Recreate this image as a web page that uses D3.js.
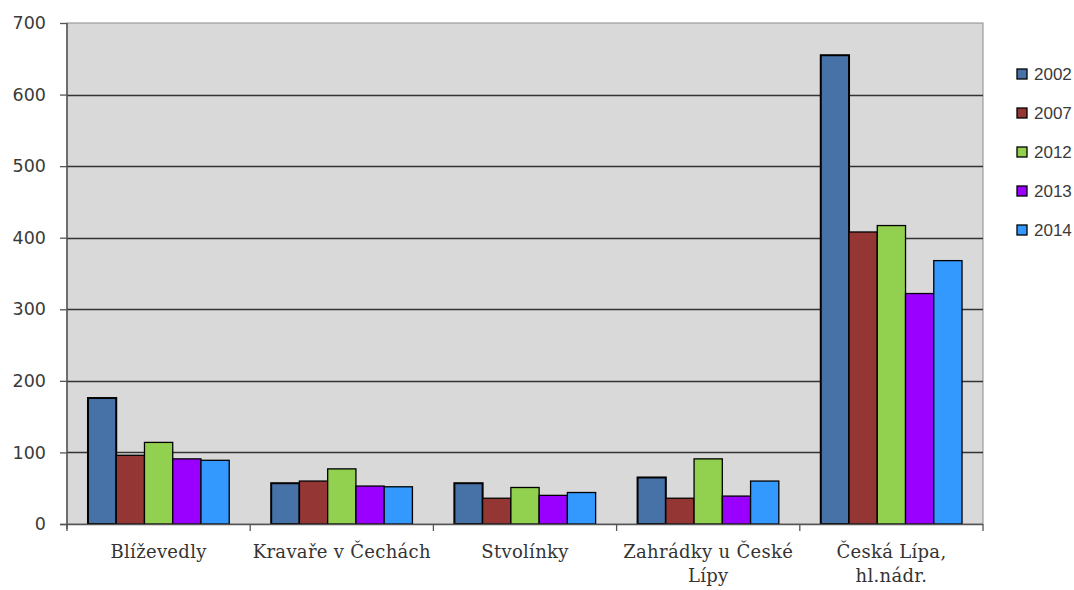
<!DOCTYPE html>
<html>
<head>
<meta charset="utf-8">
<script src="https://cdn.jsdelivr.net/npm/d3@7"></script>
<style>
  html, body { margin: 0; padding: 0; background: #ffffff; }
  svg { display: block; }
</style>
</head>
<body>
<svg id="chart" width="1074" height="590"></svg>
<script>
// Categories (localities) and the yearly series
const categories = [
  ["Blíževedly"],
  ["Kravaře v Čechách"],
  ["Stvolínky"],
  ["Zahrádky u České", "Lípy"],
  ["Česká Lípa,", "hl.nádr."]
];
const years = ["2002", "2007", "2012", "2013", "2014"];
const values2002 = [176, 57, 57, 65, 655];
const values2007 = [96, 60, 36, 36, 408];
const values2012 = [114, 77, 51, 91, 417];
const values2013 = [91, 53, 40, 39, 322];
const values2014 = [89, 52, 44, 60, 368];
const yTicks = [0, 100, 200, 300, 400, 500, 600, 700];
const colors = ["#4672A8", "#943634", "#92D050", "#9900FF", "#3399FF"];

const series = [values2002, values2007, values2012, values2013, values2014];

const svg = d3.select("#chart");
const plot = { left: 67, top: 23, right: 983, bottom: 524 };

const x0 = d3.scaleBand()
  .domain(d3.range(categories.length))
  .range([plot.left, plot.right])
  .paddingInner(0.229)
  .paddingOuter(0.1145);

const x1 = d3.scaleBand()
  .domain(d3.range(years.length))
  .range([0, x0.bandwidth()]);

const y = d3.scaleLinear().domain([0, 700]).range([plot.bottom, plot.top]);

// plot background
svg.append("rect")
  .attr("x", plot.left).attr("y", plot.top)
  .attr("width", plot.right - plot.left).attr("height", plot.bottom - plot.top)
  .attr("fill", "#D9D9D9")
  .attr("stroke", "#8c8c8c").attr("stroke-width", 1);

// horizontal gridlines
svg.append("g")
  .selectAll("line")
  .data(yTicks.filter(d => d > 0 && d < 700))
  .join("line")
  .attr("x1", plot.left).attr("x2", plot.right)
  .attr("y1", d => Math.round(y(d)) + 0.5).attr("y2", d => Math.round(y(d)) + 0.5)
  .attr("stroke", "#333").attr("stroke-width", 1.4);

// bars
const groups = svg.append("g")
  .selectAll("g")
  .data(categories.map((c, i) => i))
  .join("g")
  .attr("transform", i => `translate(${x0(i)},0)`);

groups.selectAll("rect")
  .data(i => series.map((s, k) => ({ k, v: s[i] })))
  .join("rect")
  .attr("x", d => x1(d.k))
  .attr("y", d => y(d.v))
  .attr("width", x1.bandwidth())
  .attr("height", d => y(0) - y(d.v))
  .attr("fill", d => colors[d.k])
  .attr("stroke", "#000")
  .attr("stroke-width", d => d.k === 0 ? 2 : 1.3);

// y axis
const yAxis = d3.axisLeft(y)
  .tickValues(yTicks)
  .tickSize(7)
  .tickPadding(14)
  .tickFormat(d3.format("d"));
const gy = svg.append("g")
  .attr("transform", `translate(${plot.left},0)`)
  .call(yAxis);
gy.select(".domain").remove();
gy.selectAll(".tick line").attr("stroke", "#555").attr("stroke-width", 1.3);
gy.selectAll(".tick text")
  .attr("font-family", "DejaVu Sans, Verdana, sans-serif")
  .attr("font-size", 17.5)
  .attr("fill", "#3a3a3a");

svg.append("line")
  .attr("x1", plot.left).attr("x2", plot.left)
  .attr("y1", plot.top).attr("y2", plot.bottom + 5)
  .attr("stroke", "#555").attr("stroke-width", 1.5);

// x axis line and category separators
svg.append("line")
  .attr("x1", plot.left - 7).attr("x2", plot.right)
  .attr("y1", plot.bottom + 0.5).attr("y2", plot.bottom + 0.5)
  .attr("stroke", "#555").attr("stroke-width", 1.5);

const boundaries = d3.range(categories.length + 1)
  .map(i => plot.left + i * x0.step());
svg.append("g")
  .selectAll("line")
  .data(boundaries)
  .join("line")
  .attr("x1", d => d).attr("x2", d => d)
  .attr("y1", plot.bottom).attr("y2", plot.bottom + 7)
  .attr("stroke", "#555").attr("stroke-width", 1.3);

// category labels
const labels = svg.append("g")
  .selectAll("text")
  .data(categories)
  .join("text")
  .attr("x", (d, i) => x0(i) + x0.bandwidth() / 2)
  .attr("y", 558)
  .attr("text-anchor", "middle")
  .attr("font-family", "DejaVu Serif, serif")
  .attr("font-size", 18)
  .attr("letter-spacing", 0.3)
  .attr("fill", "#333");
labels.selectAll("tspan")
  .data(d => d)
  .join("tspan")
  .attr("x", function () { return d3.select(this.parentNode).attr("x"); })
  .attr("dy", (d, j) => j === 0 ? 0 : 24)
  .text(d => d);

// legend
const legend = svg.append("g")
  .selectAll("g")
  .data(years)
  .join("g")
  .attr("transform", (d, i) => `translate(1017,${74 + i * 39})`);
legend.append("rect")
  .attr("x", 0).attr("y", -5)
  .attr("width", 10).attr("height", 10)
  .attr("fill", (d, i) => colors[i])
  .attr("stroke", "#000").attr("stroke-width", 1.3);
legend.append("text")
  .attr("x", 17).attr("y", 0)
  .attr("dy", "0.35em")
  .attr("font-family", "Liberation Sans, Arial, sans-serif")
  .attr("font-size", 17)
  .attr("fill", "#3a3a3a")
  .text(d => d);
</script>
</body>
</html>
